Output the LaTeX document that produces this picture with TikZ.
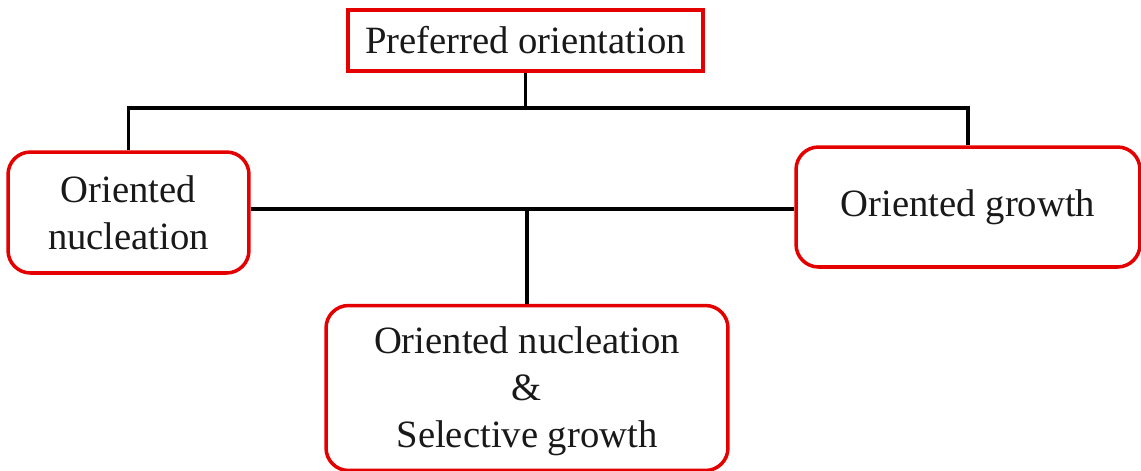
\documentclass[tikz,border=0pt]{standalone}
\usepackage{fontspec}
\setmainfont{Liberation Serif}
\usetikzlibrary{calc}

\begin{document}
\begin{tikzpicture}[x=0.02cm, y=-0.02cm,
		redbox/.style={draw=red!90!black, line width=2pt, fill=white, align=center, inner sep=0pt,
			font=\fontsize{22}{26.7}\selectfont, text=black!90},
		roundbox/.style={redbox, rounded corners=0.45cm},
		link/.style={line width=1.8pt, black}]
			%%%%% START %%%%%
			
			\useasboundingbox (0, 0) rectangle (1141, 470);
			
			\node[redbox, minimum width=7.1cm, minimum height=1.22cm] (pref) at (525.5, 40.5) {Preferred orientation};
			
			\node[roundbox, minimum width=4.82cm, minimum height=2.42cm] (nucl) at (128.5, 212.5) {Oriented\\nucleation};
			\node[roundbox, minimum width=6.88cm, minimum height=2.4cm] (grow) at (968, 207) {Oriented growth};
			\node[roundbox, minimum width=8.04cm, minimum height=3.3cm] (both) at (527, 388) {\\[-8pt]Oriented nucleation\\\&\\Selective growth};
			
			\coordinate (top) at (525.5, 108);
			\coordinate (mid) at (527, 209);
			
			\draw[link] (pref.south) -- (top);
			\draw[link] (nucl.north) |- (top) -| (grow.north);
			\draw[link] (nucl.east |- mid) -- (grow.west |- mid);
			\draw[link] (mid) -- (both.north);
			
			%%%%% END %%%%%
		\end{tikzpicture}
\end{document}
